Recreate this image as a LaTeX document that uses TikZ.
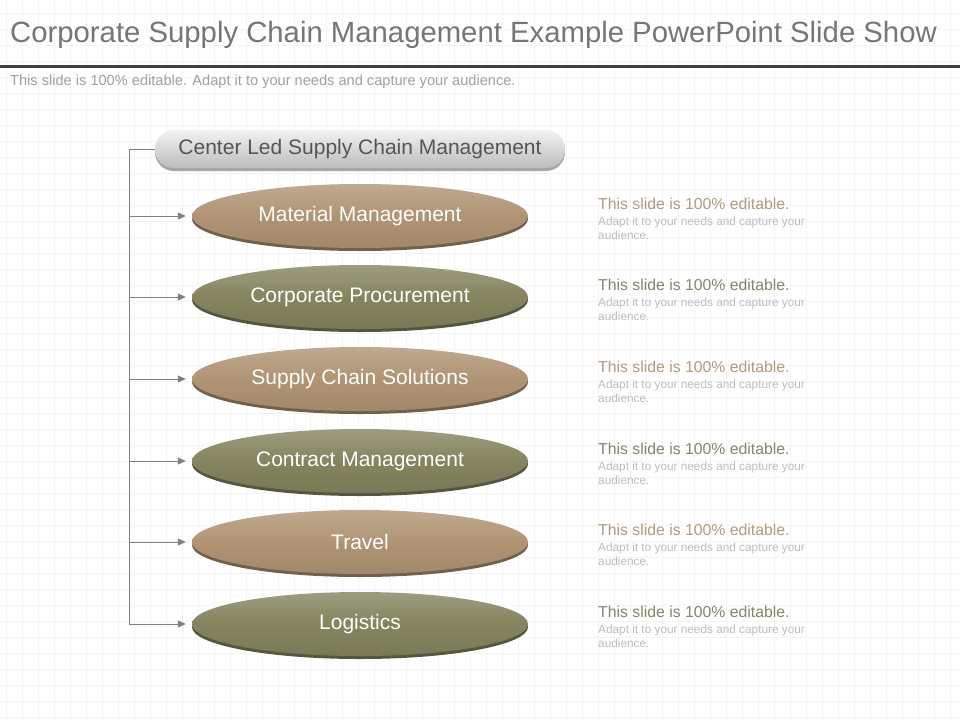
\documentclass[tikz,border=0pt]{standalone}
\usepackage{fontspec}
\setmainfont{Liberation Sans}
\usetikzlibrary{shapes.geometric,arrows.meta}
\definecolor{tanc}{HTML}{B09474}
\definecolor{olivec}{HTML}{85845F}
\definecolor{tantext}{HTML}{B39A7C}
\definecolor{olivetext}{HTML}{85856A}
\definecolor{titlegray}{HTML}{767676}
\definecolor{rulegray}{HTML}{3F3F3F}
\definecolor{subgray}{HTML}{A0A0A0}
\definecolor{bodygray}{HTML}{BDBDBD}
\definecolor{conngray}{HTML}{808080}
\definecolor{gridc}{HTML}{F4F4F4}
\definecolor{pilltext}{HTML}{555555}
\tikzset{
  ellbox/.style={ellipse, minimum width=336, minimum height=64, inner sep=0pt,
    text=white, font=\fontsize{21}{24}\selectfont},
  ellshadow/.style={ellipse, minimum width=336, minimum height=64, inner sep=0pt},
  pillbox/.style={rectangle, rounded corners=19pt, minimum width=410, minimum height=38,
    inner sep=0pt, text=pilltext, font=\fontsize{21}{24}\selectfont,
    top color=gray!10, bottom color=gray!52},
  pillshadow/.style={rectangle, rounded corners=19pt, minimum width=410, minimum height=38,
    inner sep=0pt, fill=gray!70},
  conn/.style={draw=conngray, line width=1pt},
  connarrow/.style={conn, -{Triangle[length=8pt,width=7pt]}, shorten >=6pt},
  headtext/.style={anchor=west, inner sep=0pt, font=\fontsize{15.8}{18}\selectfont},
  bodytext/.style={anchor=north west, inner sep=0pt, text=bodygray, align=left,
    font=\fontsize{11.8}{14}\selectfont}
}
\begin{document}
\begin{tikzpicture}[x=1pt,y=-1pt]
\useasboundingbox (0,0) rectangle (960,720);
\fill[white] (0,0) rectangle (960,720);
% background grid
\foreach \gx in {6,22,...,958} \draw[gridc, line width=1pt] (\gx,0) -- (\gx,720);
\foreach \gy in {13,29,...,719} \draw[gridc, line width=1pt] (0,\gy) -- (960,\gy);
% title
\node[anchor=west, inner sep=0pt, text=titlegray, font=\fontsize{29.3}{32}\selectfont] (title) at (10,35) {Corporate Supply Chain Management Example PowerPoint Slide Show};
\fill[rulegray] (0,64.5) rectangle (960,67.5);
\node[anchor=west, inner sep=0pt, text=subgray, font=\fontsize{14.6}{16}\selectfont] (subtitle) at (10,82) {This slide is 100\% editable. Adapt it to your needs and capture your audience.};
% top pill
\node[pillshadow] (topshadow) at (360,152) {};
\node[pillbox] (top) at (360,149) {Center Led Supply Chain Management};
% ellipses
\foreach \i/\y/\c/\tc/\t in {1/216/tanc/tantext/Material Management,
                             2/297/olivec/olivetext/Corporate Procurement,
                             3/379/tanc/tantext/Supply Chain Solutions,
                             4/461/olivec/olivetext/Contract Management,
                             5/542/tanc/tantext/Travel,
                             6/624/olivec/olivetext/Logistics}{
  \node[ellshadow, fill=\c!65!black] (s\i) at (360,\y+3) {};
  \node[ellbox, top color=\c!80!white, bottom color=\c!92!black, middle color=\c] (e\i) at (360,\y) {\t};
  \coordinate (j\i) at (129,\y);
  \draw[connarrow] (j\i) -- (e\i.west);
  \node[headtext, text=\tc] (h\i) at (598,\y-12) {This slide is 100\% editable.};
  \node[bodytext] (b\i) at (598,\y+1) {Adapt it to your needs and capture your\\audience.};
}
% trunk
\draw[conn] (top.west) -| (j6);
\end{tikzpicture}
\end{document}
